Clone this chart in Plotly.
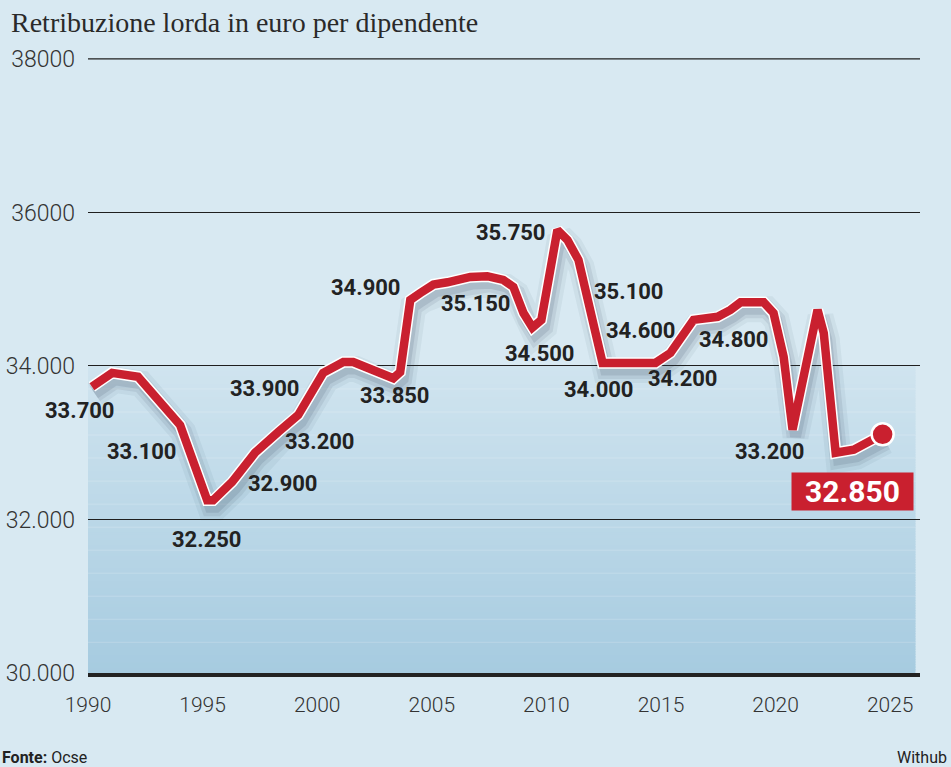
import plotly.graph_objects as go

# ---- data ----
years = [1990.17, 1991.05, 1992.18, 1993.36, 1994.02, 1995.20, 1995.46, 1996.29, 1997.29, 1998.30,
         1999.17, 2000.26, 2001.14, 2001.57, 2002.62, 2003.32, 2003.62, 2004.06, 2004.50, 2005.07,
         2005.68, 2006.68, 2007.42, 2008.12, 2008.56, 2009.00, 2009.39, 2009.78, 2010.48, 2010.92,
         2011.40, 2012.45, 2014.76, 2015.41, 2016.42, 2017.47, 2018.03, 2018.47, 2019.48, 2019.91,
         2020.35, 2020.74, 2021.83, 2022.10, 2022.62, 2023.41, 2024.67]
values = [33730, 33910, 33860, 33430, 33230, 32250, 32250, 32490, 32870, 33140,
          33360, 33910, 34050, 34050, 33920, 33840, 33920, 34860, 34950, 35060,
          35090, 35160, 35170, 35120, 35030, 34690, 34500, 34600, 35770, 35640,
          35380, 34040, 34040, 34170, 34600, 34640, 34730, 34830, 34830, 34690,
          34120, 33170, 34730, 34430, 32870, 32910, 33110]

label_texts = ["33.700", "33.100", "32.250", "32.900", "33.900", "33.200", "34.900", "33.850",
               "35.150", "35.750", "34.500", "34.000", "35.100", "34.600", "34.200", "34.800", "33.200"]
label_points = [0, 4, 5, 8, 10, 10, 17, 15, 21, 28, 26, 31, 30, 32, 33, 37, 41]
last_label = "32.850"

y_tickvals = [30000, 32000, 34000, 36000, 38000]
y_ticktext = ["30.000", "32.000", "34.000", "36000", "38000"]
x_tickvals = [1990, 1995, 2000, 2005, 2010, 2015, 2020, 2025]

# ---- styles / layout constants ----
label_shifts = [(-12, -24), (-38, -26), (0, -39), (28, -31), (-33, 27), (22, -26), (-44, 12), (2, -17),
                (6, -27), (-46, -2), (8, -26), (-4, -27), (51, -31), (-15, 32), (13, -26), (-7, -37), (-23, -22)]
BG = "#d8e9f2"
RED = "#c9202f"
W, H = 951, 767
ML, MR, MT, MB = 88, 31, 58, 94
XR = [1990, 2026.3]
YR = [30000, 38012]
px_per_x = (W - ML - MR) / (XR[1] - XR[0])
px_per_y = (H - MT - MB) / (YR[1] - YR[0])

fig = go.Figure()

# shadow (drawn on an overlay axis pair shifted a few pixels right/down)
dx, dy = 3 / px_per_x, 7 / px_per_y
for wdt, col in [(26, "rgba(40,60,80,0.06)"), (18, "rgba(40,60,80,0.09)"), (11, "rgba(40,60,80,0.12)")]:
    fig.add_trace(go.Scatter(x=years, y=values, mode="lines", xaxis="x2", yaxis="y2",
                             line=dict(color=col, width=wdt), hoverinfo="skip", showlegend=False))

# white outline + red line
fig.add_trace(go.Scatter(x=years, y=values, mode="lines", xaxis="x3", yaxis="y3",
                         line=dict(color="white", width=11.5), hoverinfo="skip", showlegend=False))
fig.add_trace(go.Scatter(x=years, y=values, mode="lines", xaxis="x3", yaxis="y3",
                         line=dict(color=RED, width=8.5), hoverinfo="skip", showlegend=False))
fig.add_trace(go.Scatter(x=[years[-1]], y=[values[-1]], mode="markers", xaxis="x3", yaxis="y3",
                         marker=dict(color=RED, size=22, line=dict(color="white", width=2.5)),
                         hoverinfo="skip", showlegend=False))

# gradient band below 34000 (drawn as thin shapes under gridlines)
top_rgb = (0xd0, 0xe4, 0xef)
bot_rgb = (0xa6, 0xcb, 0xe0)
n = 120
lo, hi = 30000, 34000
step = (hi - lo) / n
shapes = []
for i in range(n):
    t = (i + 0.5) / n
    c = tuple(round(bot_rgb[k] + (top_rgb[k] - bot_rgb[k]) * t) for k in range(3))
    shapes.append(dict(type="rect", xref="x", yref="y", layer="below",
                       x0=XR[0], x1=2026.1, y0=lo + i * step, y1=min(hi, lo + (i + 1) * step + step * 0.6),
                       fillcolor="rgb(%d,%d,%d)" % c, line=dict(width=0)))
# faint white guide lines inside the band
v = hi - 300
while v > lo + 100:
    shapes.append(dict(type="line", xref="x", yref="y", layer="below", x0=XR[0], x1=2026.1,
                       y0=v, y1=v, line=dict(color="rgba(255,255,255,0.2)", width=1)))
    v -= 300
# top grid line (plotly skips grid lines at the range edge)
shapes.append(dict(type="line", xref="paper", yref="y", layer="below", x0=0, x1=1,
                   y0=y_tickvals[-1], y1=y_tickvals[-1], line=dict(color="#1f1f1f", width=1.2)))

annotations = []
for txt, idx, (sx, sy) in zip(label_texts, label_points, label_shifts):
    annotations.append(dict(x=years[idx], y=values[idx], xref="x", yref="y", text=txt, showarrow=False,
                            xshift=sx, yshift=sy, xanchor="center", yanchor="middle",
                            font=dict(family="Roboto", size=22, color="#222222", weight=700)))
annotations.append(dict(x=years[-1], y=values[-1], xref="x", yref="y", text=last_label, showarrow=False,
                        xshift=-30, yshift=-57, xanchor="center", yanchor="middle",
                        width=121, height=37, bgcolor=RED, borderpad=0,
                        font=dict(family="Roboto", size=30, color="white", weight=700)))
# footer
foot_y = -(757 - (H - MB)) / (H - MT - MB)
annotations.append(dict(xref="paper", yref="paper", x=-ML / (W - ML - MR), y=foot_y,
                        xanchor="left", yanchor="middle", showarrow=False,
                        text="<b>Fonte:</b> Ocse", font=dict(family="Roboto", size=16, color="#222222")))
annotations.append(dict(xref="paper", yref="paper", x=(895 - ML) / (W - ML - MR), y=foot_y,
                        xanchor="left", yanchor="middle", showarrow=False,
                        text="Withub", font=dict(family="Roboto", size=16, color="#222222")))

xtickfont = dict(family="Roboto", size=21, color="#333333", weight=300)
ytickfont = dict(family="Roboto", size=23, color="#333333", weight=300)

fig.update_layout(
    width=W, height=H,
    margin=dict(l=ML, r=MR, t=MT, b=MB),
    paper_bgcolor=BG, plot_bgcolor=BG,
    showlegend=False,
    title=dict(text="Retribuzione lorda in euro per dipendente", xref="container", yref="container",
               x=11 / W, xanchor="left", y=1 - 22 / H, yanchor="middle",
               font=dict(family="Liberation Serif", size=28, color="#2a2a2a")),
    xaxis=dict(range=XR, tickvals=x_tickvals, ticks="", showgrid=False, zeroline=False,
               showline=True, linecolor="#222222", linewidth=3.5, tickfont=xtickfont,
               ticklabelstandoff=10, fixedrange=True, automargin=False),
    yaxis=dict(range=YR, tickvals=y_tickvals, ticktext=y_ticktext, ticks="", showgrid=True,
               gridcolor="#1f1f1f", gridwidth=1.2, zeroline=False, showline=False,
               tickfont=ytickfont, ticklabelstandoff=12, fixedrange=True, automargin=False),
    xaxis2=dict(range=[XR[0] - dx, XR[1] - dx], overlaying="x", visible=False, fixedrange=True),
    yaxis2=dict(range=[YR[0] + dy, YR[1] + dy], overlaying="y", visible=False, fixedrange=True),
    xaxis3=dict(range=XR, overlaying="x", visible=False, fixedrange=True),
    yaxis3=dict(range=YR, overlaying="y", visible=False, fixedrange=True),
    shapes=shapes,
    annotations=annotations,
)

fig.write_html("out.html", config={"displayModeBar": False},
               post_script="document.body.style.margin='0';document.body.style.overflow='hidden';")
